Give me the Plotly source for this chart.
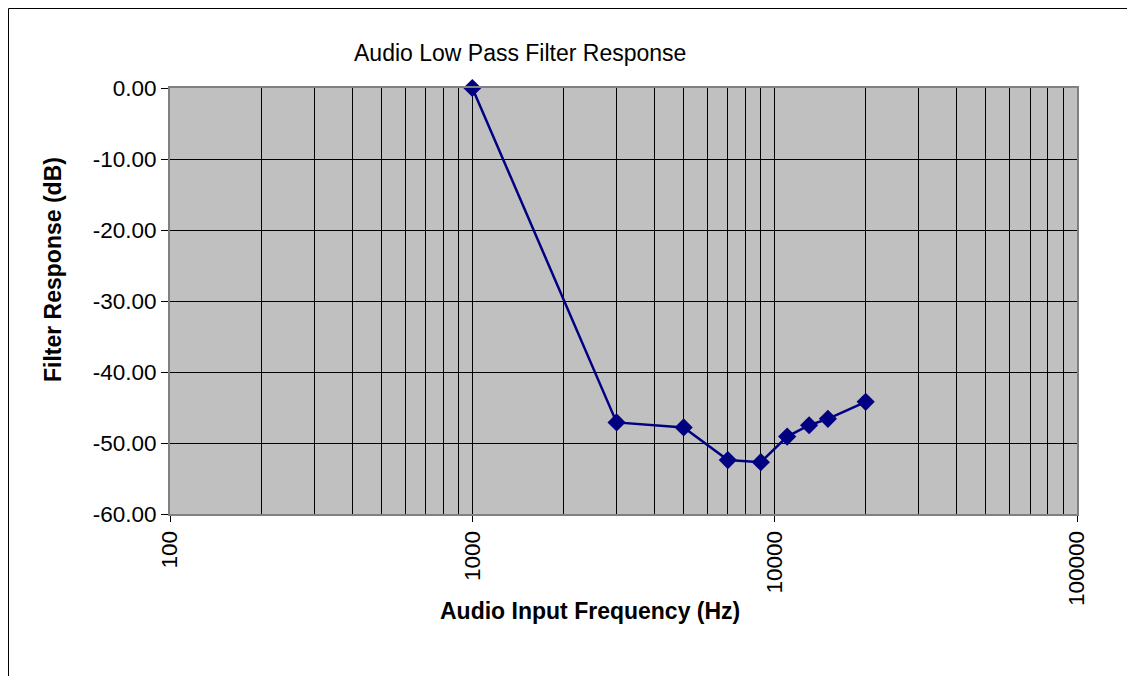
import plotly.graph_objects as go

freq_hz = [1000, 3000, 5000, 7000, 9000, 11000, 13000, 15000, 20000]
response_db = [0.0, -47.1, -47.8, -52.4, -52.7, -49.1, -47.5, -46.6, -44.2]

x_major = [100, 1000, 10000, 100000]
x_major_labels = ["100", "1000", "10000", "100000"]
x_minor = [m * d for d in (100, 1000, 10000) for m in range(2, 10)]
y_ticks = [0, -10, -20, -30, -40, -50, -60]
y_tick_labels = ["0.00", "-10.00", "-20.00", "-30.00", "-40.00", "-50.00", "-60.00"]

OFF = 8  # page body margin
W, H = 1135 - 2 * OFF, 684 - 2 * OFF
# plot area in page pixel coordinates
L, R, T, B = 170, 1077, 88, 514

FONT = "Liberation Sans, Arial, sans-serif"
NAVY = "#000080"

fig = go.Figure()
fig.add_trace(go.Scatter(
    x=freq_hz, y=response_db, mode="lines+markers",
    line=dict(color=NAVY, width=2.5),
    marker=dict(symbol="diamond", size=14, color=NAVY),
    showlegend=False, cliponaxis=False,
))

def px_x(p):
    return (p - L) / (R - L)

def px_y(p):
    return (B - p) / (B - T)

fig.update_layout(
    width=W, height=H,
    margin=dict(l=L - OFF, r=W - (R - OFF), t=T - OFF, b=H - (B - OFF), pad=0),
    paper_bgcolor="white",
    plot_bgcolor="#C0C0C0",
    font=dict(family=FONT, size=22, color="black"),
    xaxis=dict(
        type="log", range=[2, 5],
        tickvals=x_major, ticktext=x_major_labels, tickangle=-90,
        ticks="outside", ticklen=6, tickcolor="black", tickwidth=1,
        showgrid=True, gridcolor="black", gridwidth=1,
        showline=True, linecolor="#808080", linewidth=2, mirror=True,
        zeroline=False,
        tickfont=dict(size=22.5),
        minor=dict(tickvals=x_minor, showgrid=True, gridcolor="black", gridwidth=1, ticks=""),
    ),
    yaxis=dict(
        range=[-60, 0],
        tickvals=y_ticks, ticktext=y_tick_labels,
        ticks="outside", ticklen=7, tickcolor="black", tickwidth=1,
        showgrid=True, gridcolor="black", gridwidth=1,
        showline=True, linecolor="#808080", linewidth=2, mirror=True,
        zeroline=False,
        tickfont=dict(size=22.5),
    ),
    annotations=[
        dict(text="Audio Low Pass Filter Response", xref="paper", yref="paper",
             x=px_x(520), y=px_y(53), showarrow=False, xanchor="center", yanchor="middle",
             font=dict(size=23)),
        dict(text="<b>Audio Input Frequency (Hz)</b>", xref="paper", yref="paper",
             x=px_x(590), y=px_y(611), showarrow=False, xanchor="center", yanchor="middle",
             font=dict(size=23)),
        dict(text="<b>Filter Response (dB)</b>", xref="paper", yref="paper",
             x=px_x(53), y=px_y(270), showarrow=False, xanchor="center", yanchor="middle",
             textangle=-90, font=dict(size=23)),
    ],
    shapes=[
        dict(type="rect", xref="paper", yref="paper",
             x0=px_x(OFF + 0.5), x1=px_x(1200), y0=px_y(760), y1=px_y(OFF + 0.5),
             line=dict(color="black", width=1), fillcolor="rgba(0,0,0,0)", layer="below"),
    ],
)

fig.write_html("out.html")
